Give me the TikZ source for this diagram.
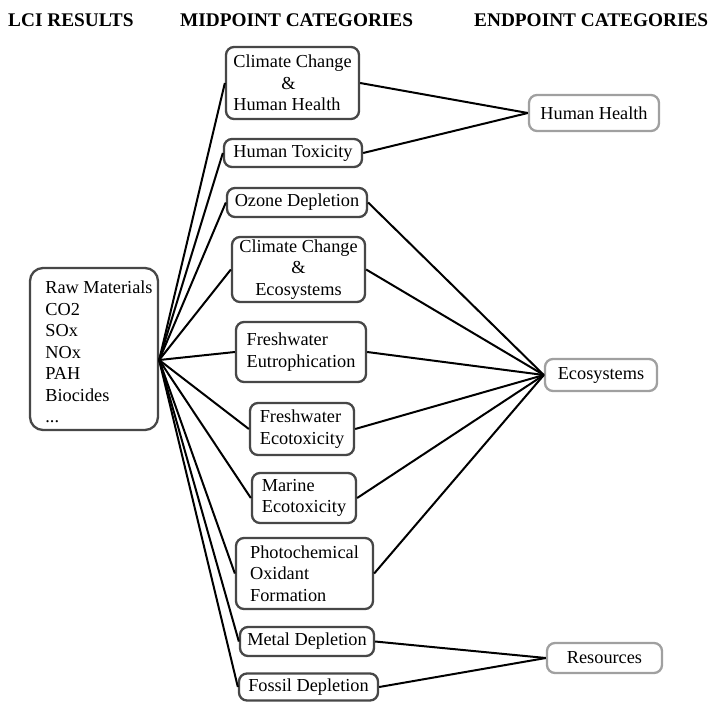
\documentclass[tikz,border=0pt]{standalone}
\usepackage{fontspec}
\setmainfont{Liberation Serif}
\definecolor{midgray}{HTML}{474747}
\definecolor{endgray}{HTML}{A0A0A0}
\begin{document}
\begin{tikzpicture}[x=1pt,y=-1pt,
  txt/.style={font=\fontsize{18.3}{21.5}\selectfont},
  hdr/.style={font=\fontsize{19.3}{22}\selectfont\bfseries, anchor=base west, inner sep=0pt},
  midbox/.style={txt, draw=midgray, line width=2.3pt, rounded corners=8pt, fill=white, inner sep=0pt, align=left},
  endbox/.style={txt, draw=endgray, line width=2.3pt, rounded corners=8pt, fill=white, inner sep=0pt},
  lcibox/.style={txt, draw=midgray, line width=2.3pt, rounded corners=13pt, fill=white, inner sep=0pt},
  link/.style={line width=2pt, black}]
\useasboundingbox (0,0) rectangle (712,702);

% headers
\node[hdr] (h1) at (8,26) {LCI RESULTS};
\node[hdr] (h2) at (180,26) {MIDPOINT CATEGORIES};
\node[hdr] (h3) at (474,26) {ENDPOINT CATEGORIES};

% LCI results
\node[lcibox, minimum width=128pt, minimum height=162pt] (lci) at (94,349)
  {\raisebox{-5pt}[\height][\depth]{\begin{tabular}{@{\hspace{10pt}}l@{}}Raw Materials\\CO2\\SOx\\NOx\\PAH\\Biocides\\...\end{tabular}}};
\coordinate (hub) at ([yshift=-11pt]lci.east);

% midpoint categories
\node[midbox, minimum width=133pt, minimum height=72pt] (cchh) at (292.5,83)
  {Climate Change\\\hspace*{48pt}\&\\Human Health};
\node[midbox, minimum width=138pt, minimum height=28pt] (htox) at (293,153) {Human Toxicity};
\node[midbox, minimum width=140pt, minimum height=29pt] (ozone) at (297,202.5) {Ozone Depletion};
\node[midbox, align=center, minimum width=133pt, minimum height=65pt] (ccec) at (298.5,269.5)
  {Climate Change\\\&\\Ecosystems};
\node[midbox, minimum width=130pt, minimum height=60pt] (feut) at (301,352) {Freshwater\\Eutrophication};
\node[midbox, minimum width=104pt, minimum height=52pt] (feco) at (302,429) {Freshwater\\Ecotoxicity};
\node[midbox, minimum width=104pt, minimum height=50pt] (mar) at (304,498) {Marine\\Ecotoxicity};
\node[midbox, minimum width=137pt, minimum height=71pt] (photo) at (304.5,573.5) {Photochemical\\Oxidant\\Formation};
\node[midbox, minimum width=134pt, minimum height=29pt] (metal) at (307,641.5) {Metal Depletion};
\node[midbox, minimum width=139pt, minimum height=27pt] (fossil) at (308.5,687) {Fossil Depletion};

% endpoint categories
\node[endbox, minimum width=130pt, minimum height=36pt] (hh) at (594,113) {Human Health};
\node[endbox, minimum width=112pt, minimum height=32pt] (eco) at (601,375) {Ecosystems};
\node[endbox, minimum width=115pt, minimum height=30pt] (res) at (604.5,658) {Resources};

% LCI to midpoint
\foreach \m in {cchh,htox,ozone,ccec,feut,feco,mar,photo,metal,fossil}
  \draw[link] (hub) -- (\m.west);

% midpoint to endpoint
\foreach \m in {cchh,htox}
  \draw[link] (\m.east) -- (hh.west);
\foreach \m in {ozone,ccec,feut,feco,mar,photo}
  \draw[link] (\m.east) -- (eco.west);
\foreach \m in {metal,fossil}
  \draw[link] (\m.east) -- (res.west);
\end{tikzpicture}
\end{document}
